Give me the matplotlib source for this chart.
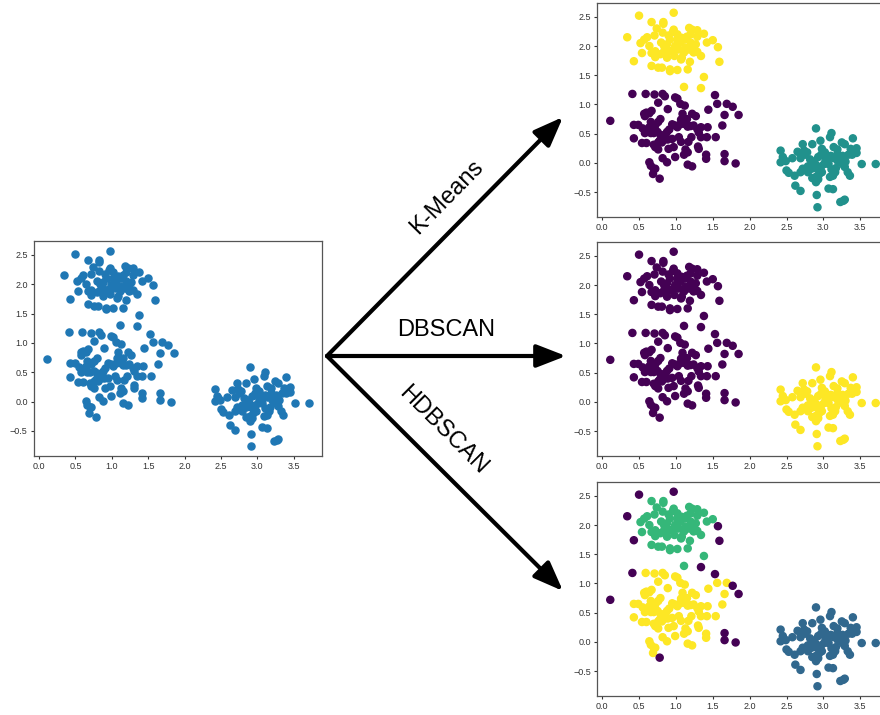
import numpy as np
import matplotlib.pyplot as plt
from matplotlib.patches import FancyArrowPatch

# points, split by how the algorithms label them
top_core_x = [0.67, 0.83, 0.83, 0.74, 0.82, 0.97, 0.96, 1.18, 1.22, 1.29, 1.38, 1.50, 0.54, 0.52, 0.57,
              0.61, 0.64, 0.71, 0.67, 0.72, 0.72, 0.67, 0.76, 0.81, 0.79, 0.84, 0.88, 0.92, 0.92, 1.02,
              1.07, 1.19, 1.16, 1.34, 1.42, 1.29, 1.27, 1.11, 1.04, 0.99, 0.92, 0.88, 0.86, 1.06, 1.12,
              1.15, 1.08, 1.20, 1.24, 1.18, 1.13, 1.02, 0.97, 0.92, 1.29, 1.24, 0.98, 1.08, 0.84, 0.80,
              0.90, 1.02, 1.20, 1.38, 1.11]
top_core_y = [2.41, 2.41, 2.38, 2.30, 2.23, 2.28, 2.24, 2.31, 2.28, 2.27, 2.21, 2.10, 1.88, 2.05, 2.11,
              2.15, 2.00, 2.18, 1.88, 1.91, 1.81, 1.66, 1.63, 1.63, 1.86, 1.91, 1.80, 1.60, 1.57, 1.59,
              1.77, 1.73, 1.60, 1.83, 2.06, 1.90, 2.03, 1.89, 1.94, 2.00, 2.11, 2.03, 1.97, 2.06, 2.11,
              2.16, 2.14, 2.06, 2.00, 1.94, 1.97, 2.11, 1.94, 1.91, 2.16, 1.89, 1.83, 1.80, 2.00, 2.06,
              2.18, 2.20, 2.20, 1.47, 1.30]

top_noise_x = [0.34, 0.50, 0.43, 0.97, 1.57, 1.59, 1.34]
top_noise_y = [2.15, 2.52, 1.74, 2.57, 1.98, 1.73, 1.28]

mid_core_x = [0.59, 0.71, 0.82, 0.85, 0.99, 1.02, 0.76, 0.89, 1.06, 1.12, 1.56, 1.69, 1.44, 1.66, 0.57,
              0.60, 0.64, 0.58, 0.67, 0.43, 0.49, 0.55, 0.58, 0.64, 0.66, 0.72, 0.76, 0.79, 0.66, 0.70,
              0.75, 0.79, 0.82, 0.78, 0.81, 0.43, 0.54, 0.60, 0.70, 0.72, 0.76, 0.85, 0.89, 0.88, 0.91,
              0.86, 0.95, 0.99, 1.02, 1.06, 1.07, 1.09, 1.15, 1.13, 1.22, 1.27, 1.20, 1.24, 1.29, 1.31,
              1.34, 1.43, 1.42, 1.54, 1.34, 1.21, 1.16, 1.04, 1.07, 0.95, 0.90, 0.97, 1.13, 1.16, 1.11,
              1.30, 1.31, 1.41, 1.41, 0.82, 0.88, 0.99, 1.16, 1.22, 0.64, 0.66, 0.70, 0.69, 0.72, 1.63,
              1.17, 0.76]
mid_core_y = [1.18, 1.17, 1.18, 1.14, 1.12, 1.10, 1.03, 0.92, 1.01, 0.98, 1.01, 1.01, 0.91, 0.82, 0.84,
              0.86, 0.85, 0.80, 0.89, 0.65, 0.65, 0.59, 0.51, 0.61, 0.70, 0.64, 0.70, 0.75, 0.51, 0.51,
              0.53, 0.48, 0.42, 0.38, 0.35, 0.42, 0.34, 0.34, 0.31, 0.27, 0.23, 0.40, 0.40, 0.53, 0.57,
              0.49, 0.66, 0.64, 0.61, 0.66, 0.74, 0.84, 0.75, 0.66, 0.84, 0.80, 0.63, 0.64, 0.58, 0.52,
              0.61, 0.61, 0.44, 0.44, 0.44, 0.44, 0.62, 0.44, 0.36, 0.41, 0.24, 0.27, 0.23, 0.18, 0.14,
              0.28, 0.24, 0.14, 0.07, 0.08, 0.01, 0.10, -0.03, -0.06, 0.01, -0.05, -0.10, -0.19, -0.10, 0.64,
              0.36, 0.35]

mid_noise_x = [0.11, 0.41, 1.53, 1.77, 1.85, 1.66, 1.66, 1.81, 0.78]
mid_noise_y = [0.72, 1.18, 1.16, 0.96, 0.82, 0.15, 0.03, -0.01, -0.27]

right_x = [2.90, 3.11, 3.09, 3.40, 2.96, 2.85, 2.72, 3.25, 3.29, 2.42, 2.65, 2.74, 3.14, 3.19, 3.45,
           3.45, 3.39, 2.45, 2.46, 2.42, 2.49, 2.58, 2.69, 2.75, 2.82, 2.87, 2.89, 2.93, 2.97, 3.02,
           3.05, 3.10, 3.14, 3.19, 3.22, 3.26, 3.30, 3.34, 3.52, 3.71, 3.26, 3.29, 3.17, 3.11, 3.33,
           3.36, 2.50, 2.53, 2.61, 2.69, 2.72, 2.79, 2.84, 2.79, 2.85, 2.90, 2.94, 2.90, 2.93, 2.97,
           2.95, 3.09, 3.13, 2.62, 2.69, 3.07, 3.13, 2.91, 3.23, 3.27, 3.29, 2.92, 3.01, 3.03, 3.07,
           2.91, 2.85, 2.98, 3.20, 3.16, 2.98, 2.78, 3.37]
right_y = [0.59, 0.51, 0.44, 0.42, 0.38, 0.32, 0.32, 0.35, 0.32, 0.21, 0.19, 0.21, 0.27, 0.23, 0.25,
           0.17, 0.14, 0.10, 0.06, 0.01, 0.03, 0.08, 0.08, 0.14, 0.06, 0.02, -0.02, 0.10, 0.14, 0.18,
           0.07, 0.12, 0.08, 0.15, 0.07, 0.12, 0.02, 0.14, -0.02, -0.02, -0.02, -0.07, -0.09, -0.11, -0.16,
           -0.22, -0.13, -0.17, -0.22, -0.16, -0.10, -0.06, -0.10, -0.16, -0.26, -0.24, -0.20, -0.33, -0.28, -0.06,
           -0.13, -0.24, -0.22, -0.39, -0.48, -0.44, -0.45, -0.55, -0.67, -0.65, -0.63, -0.76, -0.02, 0.04, -0.02,
           -0.10, -0.05, -0.16, 0.02, -0.16, 0.24, 0.18, 0.24]

# cluster label of each group, per algorithm
kmeans_labels = {"top_core": 2, "top_noise": 2, "mid_core": 0, "mid_noise": 0, "right": 1}
dbscan_labels = {"top_core": 0, "top_noise": 0, "mid_core": 0, "mid_noise": 0, "right": 1}
hdbscan_labels = {"top_core": 1, "top_noise": -1, "mid_core": 2, "mid_noise": -1, "right": 0}

groups = {
    "top_core": (top_core_x, top_core_y),
    "top_noise": (top_noise_x, top_noise_y),
    "mid_core": (mid_core_x, mid_core_y),
    "mid_noise": (mid_noise_x, mid_noise_y),
    "right": (right_x, right_y),
}

x = np.concatenate([groups[g][0] for g in groups])
y = np.concatenate([groups[g][1] for g in groups])

def labels_for(d):
    return np.concatenate([[d[g]] * len(groups[g][0]) for g in groups])

plt.rcParams['font.family'] = ['Liberation Sans', 'DejaVu Sans']

W, H = 880, 715
fig = plt.figure(figsize=(W / 100, H / 100), dpi=100)

def px_axes(x0, y0, x1, y1):
    return fig.add_axes([x0 / W, 1 - y1 / H, (x1 - x0) / W, (y1 - y0) / H])

def style(ax):
    ax.tick_params(labelsize=6.5, length=2.5, pad=2, colors='#333333')
    for s in ax.spines.values():
        s.set_color('#555555')
        s.set_linewidth(0.9)

ms = 26

ax0 = px_axes(34, 241, 322, 456)
ax0.scatter(x, y, s=ms, color='#1f77b4')
style(ax0)

ax1 = px_axes(597, 3, 889, 217)
ax1.scatter(x, y, s=ms, c=labels_for(kmeans_labels), cmap='viridis')
style(ax1)

ax2 = px_axes(597, 242, 889, 456)
ax2.scatter(x, y, s=ms, c=labels_for(dbscan_labels), cmap='viridis')
style(ax2)

ax3 = px_axes(597, 482, 889, 696)
ax3.scatter(x, y, s=ms, c=labels_for(hdbscan_labels), cmap='viridis')
style(ax3)

def fpt(px, py):
    return (px / W, 1 - py / H)

origin = fpt(327, 356)
tips = [fpt(563, 117), fpt(566, 356), fpt(563, 591)]
for t in tips:
    arr = FancyArrowPatch(origin, t, transform=fig.transFigure, arrowstyle='-|>,head_length=0.9,head_width=0.35',
                          mutation_scale=20, lw=3, color='black', shrinkA=0, shrinkB=0)
    fig.patches.append(arr)

fig.text(447 / W, 1 - 197 / H, "K-Means", fontsize=17, rotation=45.5, ha='center', va='center',
         rotation_mode='anchor')
fig.text(446 / W, 1 - 330 / H, "DBSCAN", fontsize=17, ha='center', va='center')
fig.text(443 / W, 1 - 430 / H, "HDBSCAN", fontsize=17, rotation=-45, ha='center', va='center',
         rotation_mode='anchor')

fig.savefig("out.png", dpi=100)
